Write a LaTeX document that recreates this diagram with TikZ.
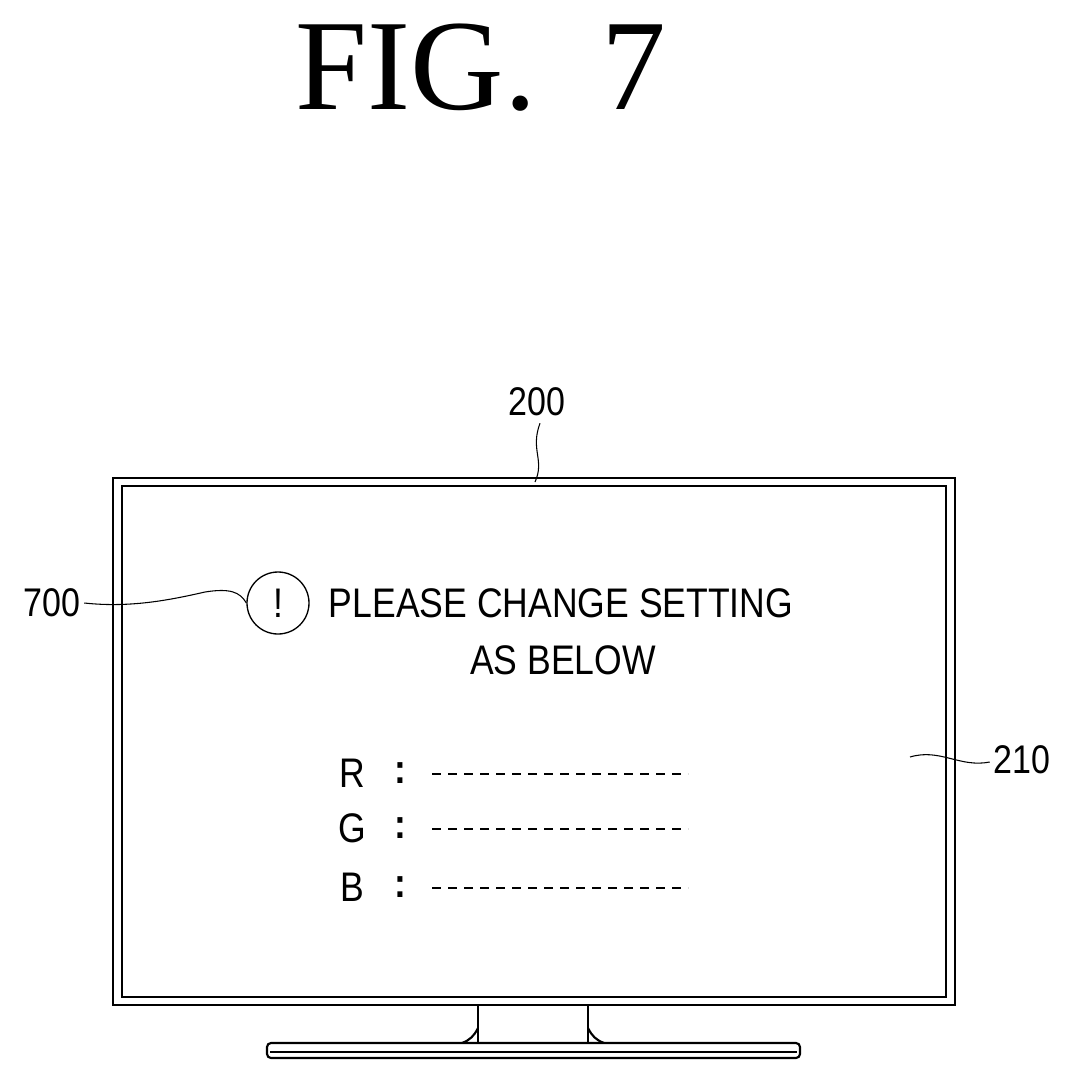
\documentclass[tikz,border=0pt]{standalone}
\usepackage{fontspec}
\setmainfont{Liberation Serif}
\newfontfamily\labelfont{Liberation Sans}
\tikzset{
  lbl/.style={font=\labelfont\fontsize{30}{30}\selectfont, inner sep=0pt, xscale=0.85},
  msg/.style={font=\labelfont\fontsize{31}{31}\selectfont, inner sep=0pt, xscale=0.86},
  lead/.style={line width=0.8pt},
  dashline/.style={line width=1.2pt, dash pattern=on 7pt off 5pt},
}
\begin{document}
\begin{tikzpicture}[x=0.75pt,y=-0.75pt, line width=1.6pt]
\useasboundingbox (0,0) rectangle (1076,1081);
\node[inner sep=0pt, font=\fontsize{97}{97}\selectfont] (title) at (481,68) {FIG.\ \ 7};
% monitor
\draw (113,478) rectangle (955,1005);
\draw (122,486) rectangle (946,997);
\draw (478,1005) -- (478,1043);
\draw (588,1005) -- (588,1043);
\draw (478,1028) .. controls (474,1036) and (470,1040) .. (462,1043);
\draw (588,1028) .. controls (592,1036) and (596,1040) .. (604,1043);
\draw[rounded corners=3pt] (267,1043) rectangle (800,1058);
\draw (270,1052) -- (797,1052);
% message
\node[draw, circle, minimum size=62pt*0.75, inner sep=0pt, line width=1pt] (warn) at (278,603) {};
\node[msg] (bang) at (278,603) {!};
\node[msg, anchor=west] (line1) at (328,603) {PLEASE CHANGE SETTING};
\node[msg] (line2) at (563,660) {AS BELOW};
\foreach \c/\y/\n in {R/773/r, G/828/g, B/887/b}{
  \node[msg] (\n) at (352,\y) {\c};
  \node[msg] (\n col) at (400,\y) {\textbf{:}};
  \coordinate (\n s) at (432,\y+1);
  \coordinate (\n e) at (688,\y+1);
  \draw[dashline] (\n s) -- (\n e);
}
% reference numerals
\node[lbl] (n200) at (537,402) {200};
\node[lbl] (n700) at (52,603) {700};
\node[lbl] (n210) at (1022,760) {210};
\coordinate (p200) at (535,482);
\coordinate (p210) at (910,757);
\draw[lead] (n200.south) ++(3,6) .. controls (530,450) and (545,460) .. (p200);
\draw[lead] (n700.east) ++(3,0) .. controls (130,608) and (170,600) .. (205,592) .. controls (230,588) and (240,592) .. (warn.west);
\draw[lead] (n210.west) ++(-3,2) .. controls (960,768) and (940,748) .. (p210);
\end{tikzpicture}
\end{document}
